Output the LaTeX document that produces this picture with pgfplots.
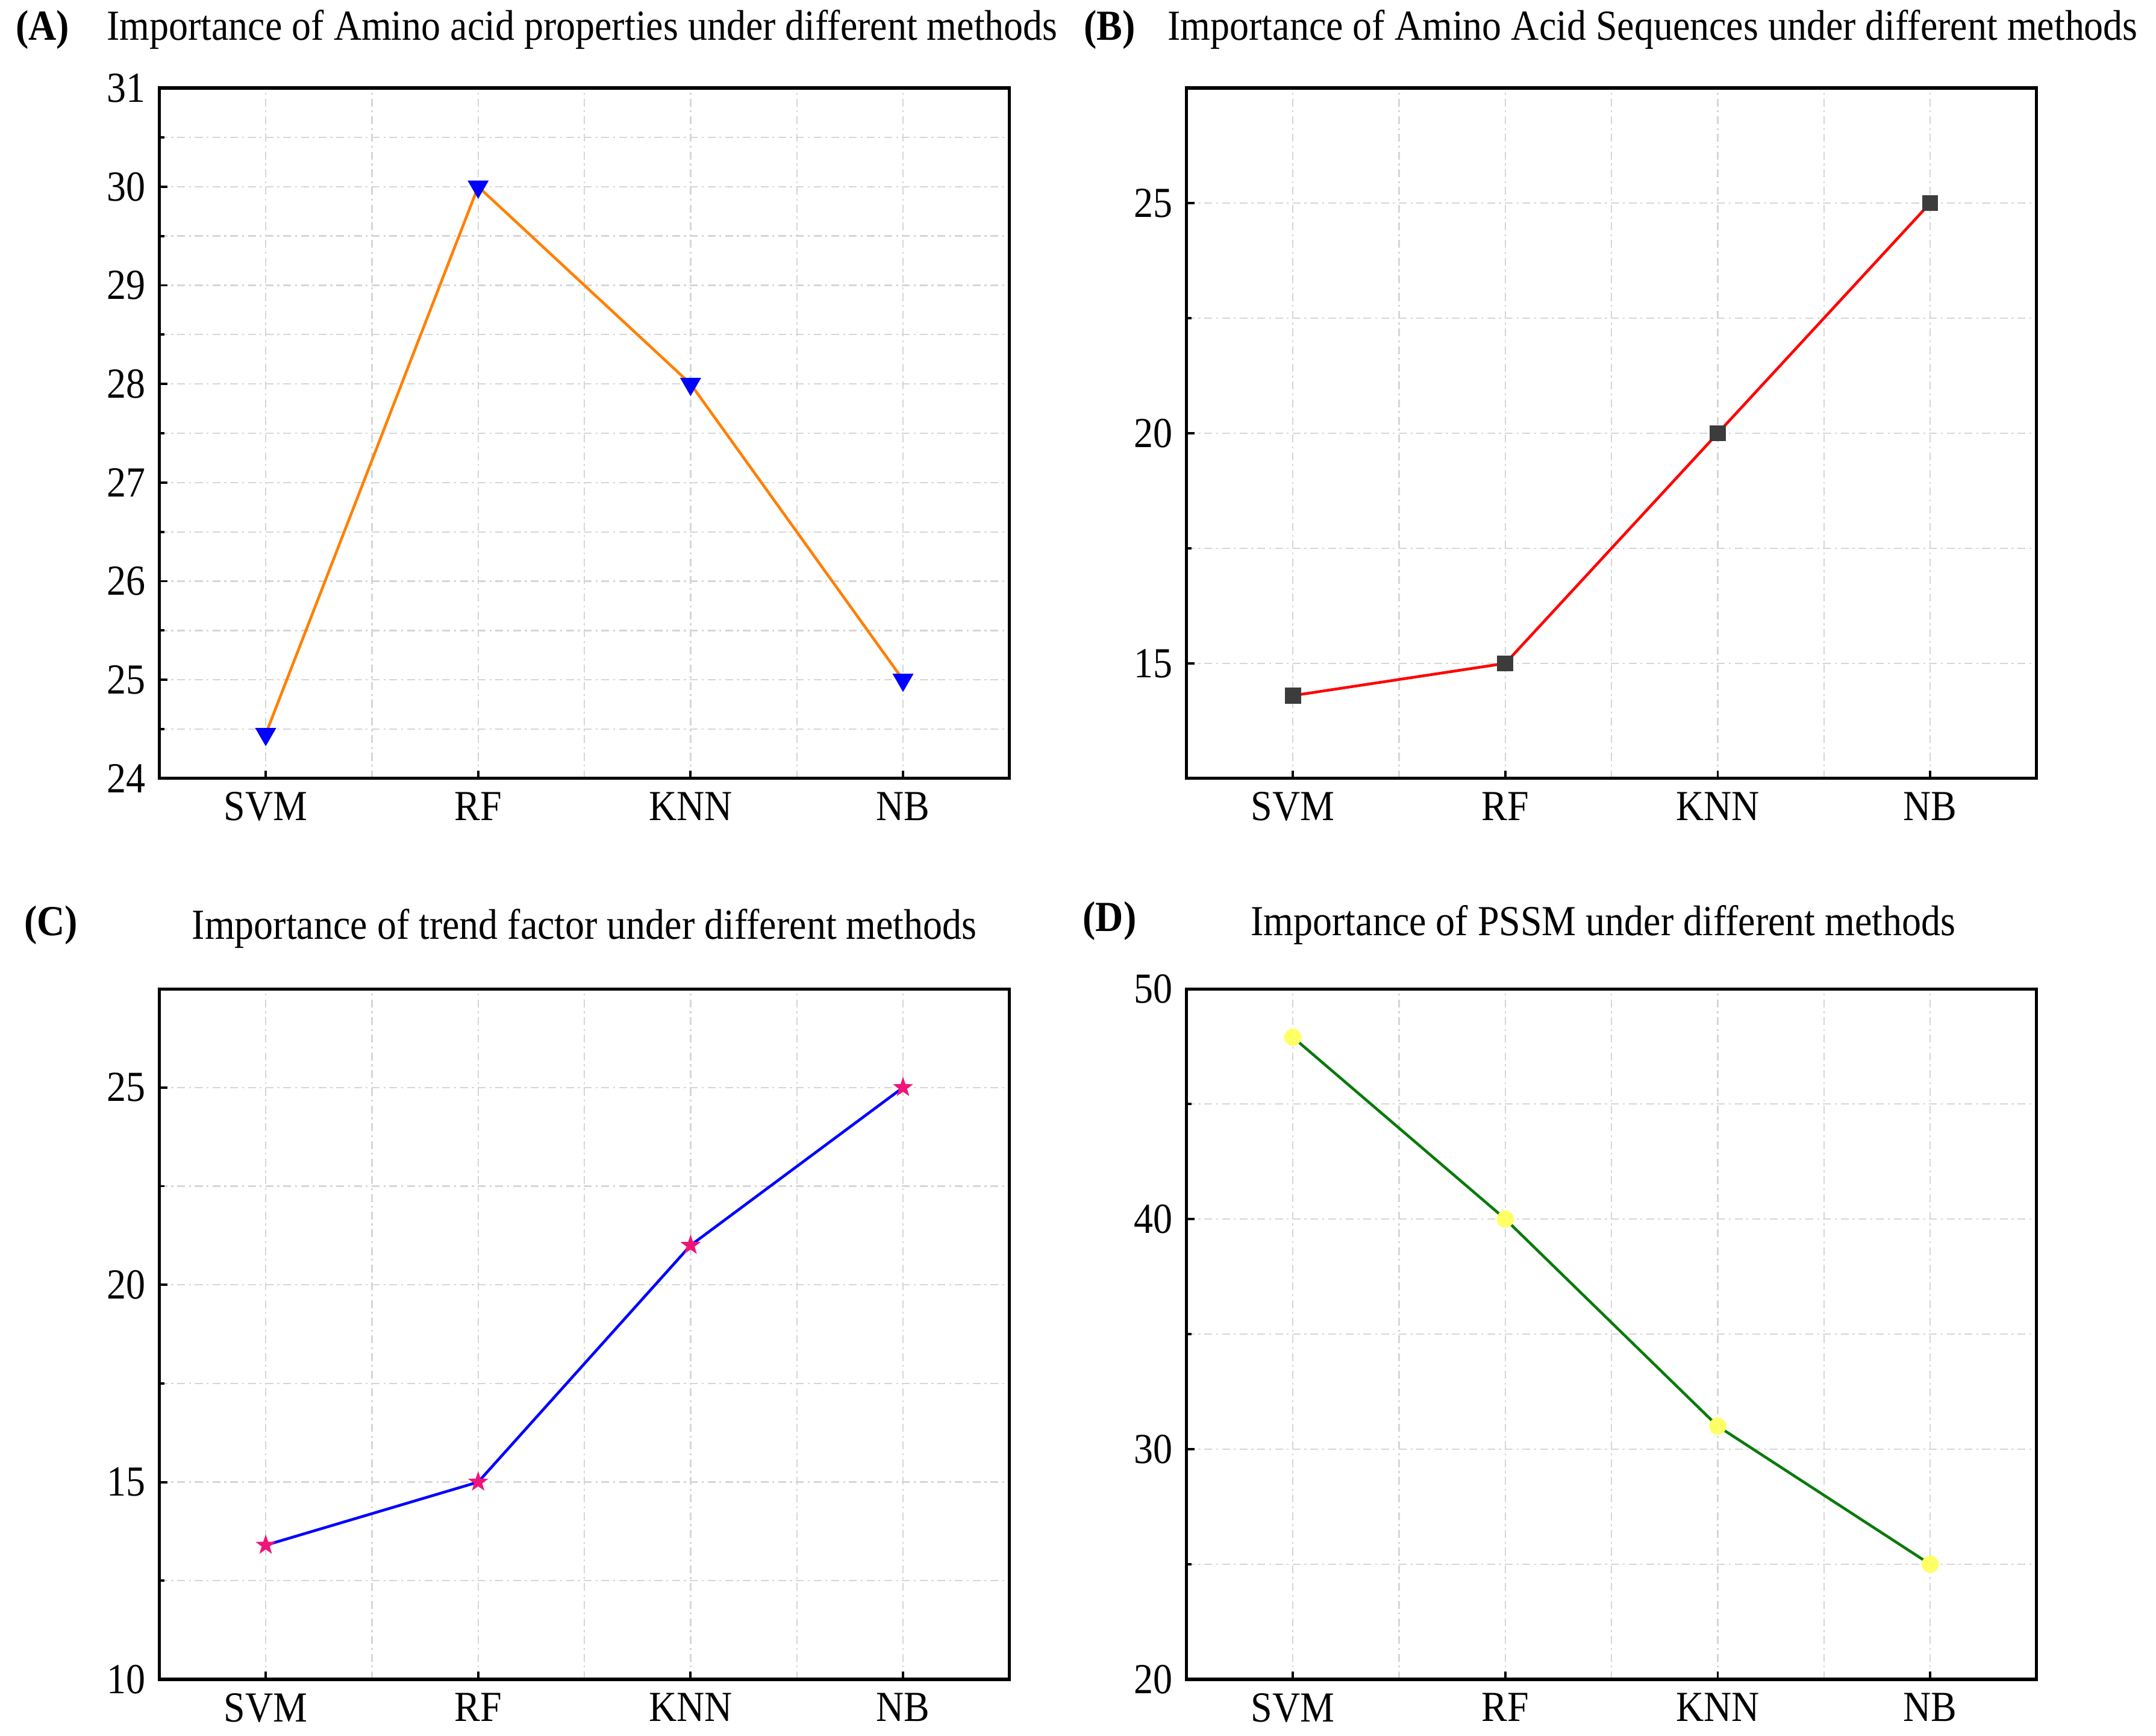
\documentclass[border=0pt]{standalone}
\usepackage{fontspec}
\setmainfont{Liberation Serif}[FakeStretch=0.9]
\usepackage{pgfplots}
\pgfplotsset{compat=1.18}
\definecolor{lineA}{HTML}{FF8000}
\definecolor{markB}{HTML}{3C3C3C}
\definecolor{markC}{HTML}{F0147A}
\definecolor{markD}{HTML}{FFFF66}
\definecolor{lineD}{HTML}{0A7A0A}
\pgfdeclareplotmark{fstar}{%
  \pgfpathmoveto{\pgfpointpolar{90}{\pgfplotmarksize}}%
  \pgfpathlineto{\pgfpointpolar{126}{0.4\pgfplotmarksize}}%
  \pgfpathlineto{\pgfpointpolar{162}{\pgfplotmarksize}}%
  \pgfpathlineto{\pgfpointpolar{198}{0.4\pgfplotmarksize}}%
  \pgfpathlineto{\pgfpointpolar{234}{\pgfplotmarksize}}%
  \pgfpathlineto{\pgfpointpolar{270}{0.4\pgfplotmarksize}}%
  \pgfpathlineto{\pgfpointpolar{306}{\pgfplotmarksize}}%
  \pgfpathlineto{\pgfpointpolar{342}{0.4\pgfplotmarksize}}%
  \pgfpathlineto{\pgfpointpolar{18}{\pgfplotmarksize}}%
  \pgfpathlineto{\pgfpointpolar{54}{0.4\pgfplotmarksize}}%
  \pgfpathclose
  \pgfusepathqfillstroke}
\pgfplotsset{panel/.style={
  scale only axis, width=216.3pt, height=175.7pt, anchor=south west,
  xmin=-0.5, xmax=3.5, xtick={0,1,2,3}, xticklabels={SVM,RF,KNN,NB},
  minor xtick={0.5,1.5,2.5},
  tick pos=left, tick align=inside,
  major tick length=2pt, minor tick length=1.2pt,
  minor x tick style={draw=none},
  grid=both,
  major grid style={gray!32, dash pattern=on 2pt off 1pt on 0.5pt off 1pt, line width=0.35pt},
  minor grid style={gray!32, dash pattern=on 2pt off 1pt on 0.5pt off 1pt, line width=0.35pt},
  axis line style={line width=0.8pt},
  tick style={black, line width=0.6pt},
  ticklabel style={font=\fontsize{10.9}{13}\selectfont},
  /pgf/number format/assume math mode=true,
  every axis plot/.append style={line width=0.7pt},
}}
\begin{document}
\begin{tikzpicture}
\path[use as bounding box] (0,0) rectangle (548.8pt,441.7pt);
\def\tfont{\fontsize{10.9}{13}\selectfont}
% Panel titles
\node[anchor=base,font=\tfont\bfseries] at (10.85pt,431.55pt) {(A)};
\node[anchor=base,font=\tfont] at (148.2pt,431.55pt) {Importance of Amino acid properties under different methods};
\node[anchor=base,font=\tfont\bfseries] at (282.45pt,431.55pt) {(B)};
\node[anchor=base,font=\tfont] at (420.7pt,431.55pt) {Importance of Amino Acid Sequences under different methods};
\node[anchor=base,font=\tfont\bfseries] at (12.95pt,203.7pt) {(C)};
\node[anchor=base,font=\tfont] at (148.75pt,202.65pt) {Importance of trend factor under different methods};
\node[anchor=base,font=\tfont\bfseries] at (282.45pt,204.75pt) {(D)};
\node[anchor=base,font=\tfont] at (408.1pt,203.7pt) {Importance of PSSM under different methods};

% (A)
\begin{axis}[panel, at={(40.6pt,243.6pt)},
  ymin=24, ymax=31, ytick={24,25,26,27,28,29,30,31}, minor y tick num=1]
\addplot[color=lineA, mark=triangle*, mark size=2.8pt,
  mark options={rotate=180, fill=blue, draw=blue, line width=0.3pt}]
  coordinates {(0,24.45) (1,30) (2,28) (3,25)};
\end{axis}

% (B)
\begin{axis}[panel, at={(302.05pt,243.6pt)},
  ymin=12.5, ymax=27.5, ytick={15,20,25}, minor ytick={17.5,22.5}]
\addplot[color=red, mark=square*, mark size=1.9pt,
  mark options={fill=markB, draw=markB, line width=0.3pt}]
  coordinates {(0,14.3) (1,15) (2,20) (3,25)};
\end{axis}

% (C)
\begin{axis}[panel, at={(40.6pt,14.35pt)},
  ymin=10, ymax=27.5, ytick={10,15,20,25}, minor ytick={12.5,17.5,22.5}]
\addplot[color=blue, mark=fstar, mark size=2.4pt,
  mark options={draw=markC, fill=markC, line width=0.2pt}]
  coordinates {(0,13.4) (1,15) (2,21) (3,25)};
\end{axis}

% (D)
\begin{axis}[panel, at={(302.05pt,14.35pt)},
  ymin=20, ymax=50, ytick={20,30,40,50}, minor ytick={25,35,45}]
\addplot[color=lineD, mark=*, mark size=2.1pt,
  mark options={fill=markD, draw=markD, line width=0.2pt}]
  coordinates {(0,47.9) (1,40) (2,31) (3,25)};
\end{axis}
\end{tikzpicture}
\end{document}
